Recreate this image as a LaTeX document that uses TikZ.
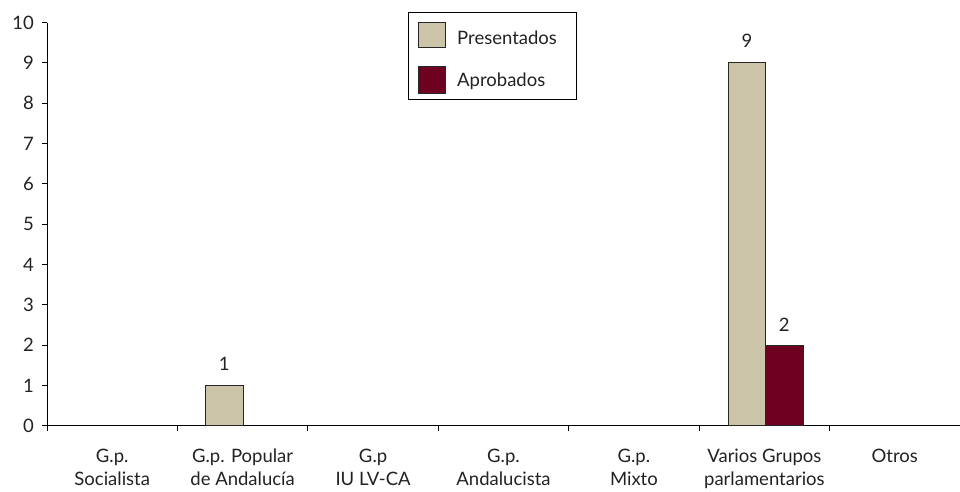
\documentclass[tikz,border=0pt]{standalone}
\usepackage{fontspec}
\setmainfont{Lato}
\definecolor{pres}{HTML}{CCC4A8}
\definecolor{apro}{HTML}{6E0020}
\definecolor{txt}{HTML}{222222}
\begin{document}
\begin{tikzpicture}[x=1pt,y=-1pt,
  every node/.style={text=txt, inner sep=0pt},
  font=\fontsize{18.5}{23}\selectfont,
  axisline/.style={draw=black, line width=1pt},
  barp/.style={draw=black!85, line width=1pt, fill=pres},
  bara/.style={draw=black!85, line width=1pt, fill=apro},
  catlbl/.style={anchor=north, align=center},
  ylbl/.style={anchor=east},
  vallbl/.style={anchor=base},
  legbox/.style={draw=black, line width=1pt}]
\useasboundingbox (0,0) rectangle (960,492);
% axes
\coordinate (O) at (47,425.7);
\coordinate (Ytop) at (47,22.7);
\coordinate (Xend) at (960,425.7);
\draw[axisline] (Ytop) -- (O) -- (Xend);
% y ticks and labels
\foreach \k in {0,...,10}{
  \pgfmathsetmacro{\yy}{425.7-40.3*\k}
  \draw[axisline] (42,\yy) -- (47,\yy);
  \node[ylbl] (y\k) at (34,\yy) {\k};
}
% x ticks
\foreach \i in {0,...,7}{
  \pgfmathsetmacro{\xx}{47+130.43*\i}
  \draw[axisline] (\xx,425.7) -- (\xx,431);
}
% bars
\draw[barp] (205.3,425.7) rectangle (243.3,385.4);
\draw[barp] (728.3,425.7) rectangle (765.7,62.9);
\draw[bara] (765.7,425.7) rectangle (803,345.1);
% value labels
\node[vallbl] (v1) at (224.3,370.7) {1};
\node[vallbl] (v9) at (747,48) {9};
\node[vallbl] (v2) at (784.3,331.5) {2};
% category labels
\node[catlbl] (c1) at (112.2,449) {G.p.\\Socialista};
\node[catlbl] (c2) at (242.6,449) {G.p. Popular\\de Andalucía};
\node[catlbl] (c3) at (373.1,449) {G.p\\IU LV-CA};
\node[catlbl] (c4) at (503.5,449) {G.p.\\Andalucista};
\node[catlbl] (c5) at (633.9,449) {G.p.\\Mixto};
\node[catlbl] (c6) at (764.4,449) {Varios Grupos\\parlamentarios};
\node[catlbl] (c7) at (894.8,449) {Otros};
% legend
\draw[legbox] (408,13) rectangle (576,100);
\draw[barp] (418,22.3) rectangle (445,47.7);
\draw[bara] (418,66.7) rectangle (445,93.3);
\node[anchor=base west] (lp) at (457,45) {Presentados};
\node[anchor=base west] (la) at (457,86.5) {Aprobados};
\end{tikzpicture}
\end{document}
